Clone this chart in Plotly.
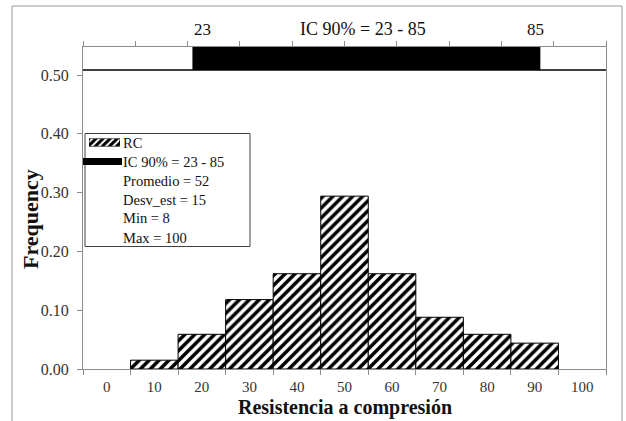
import numpy as np
import plotly.graph_objects as go

# ---------------- data ----------------
bin_centers = [10, 20, 30, 40, 50, 60, 70, 80, 90]
frequency = [0.015, 0.059, 0.118, 0.162, 0.294, 0.162, 0.088, 0.059, 0.044]
x_tick_values = [0, 10, 20, 30, 40, 50, 60, 70, 80, 90, 100]
y_tick_values = [0.0, 0.1, 0.2, 0.3, 0.4, 0.5]
ci_low = 23
ci_high = 85
series_name = "RC"
ci_label = "IC 90% = 23 - 85"
stats_lines = ["Promedio = 52", "Desv_est = 15", "Min = 8", "Max = 100"]
x_title = "Resistencia a compresión"
y_title = "Frequency"

# ---------------- layout geometry (pixels) ----------------
W_FIG, H_FIG = 626, 421
L, R, T, B = 83, 606, 47, 369
PW, PH = R - L, B - T
STRIP_BOTTOM = 70
LEG_ROW0, LEG_STEP = 142.5, 19


def px(xp):
    return (xp - L) / PW


def py(yp):
    return (B - yp) / PH


FONT = "Liberation Serif, Times New Roman, serif"
AX_GREY = "#8c8c8c"
TXT = "#111111"

fig = go.Figure()

# histogram bars
fig.add_trace(go.Bar(
    x=bin_centers, y=frequency, width=10, name=series_name,
    marker=dict(color="white", line=dict(color="black", width=1),
                pattern=dict(shape="/", size=7, solidity=0.5,
                             fgcolor="black", bgcolor="white", fgopacity=1)),
    showlegend=False, xaxis="x", yaxis="y",
))

# confidence interval strip bar
fig.add_trace(go.Bar(
    y=[0.5], x=[ci_high - ci_low], base=[ci_low], width=[1], orientation="h",
    marker=dict(color="black", line=dict(width=0)),
    showlegend=False, xaxis="x2", yaxis="y2",
))

# legend swatch (hatched) drawn in its own tiny subplot
fig.add_trace(go.Bar(
    x=[0.5], y=[1], width=[1],
    marker=dict(color="white", line=dict(color="black", width=1),
                pattern=dict(shape="/", size=5, solidity=0.6,
                             fgcolor="black", bgcolor="white", fgopacity=1)),
    showlegend=False, hoverinfo="skip", xaxis="x3", yaxis="y3",
))

strip_dom0 = py(STRIP_BOTTOM)
top_range = [3.5, 96.7]

fig.update_layout(
    width=W_FIG, height=H_FIG,
    margin=dict(l=L, r=W_FIG - R, t=T, b=H_FIG - B, pad=0),
    paper_bgcolor="white", plot_bgcolor="white",
    font=dict(family=FONT, size=16, color=TXT),
    barmode="overlay",
    showlegend=False,
    xaxis=dict(
        domain=[0, 1], anchor="y", range=[-5, 105],
        tickvals=x_tick_values, ticktext=[str(v) for v in x_tick_values],
        ticks="", showline=True, linecolor=AX_GREY, linewidth=1,
        showgrid=False, zeroline=False,
        minor=dict(ticks="outside", tick0=-5, dtick=10, ticklen=5, tickcolor=AX_GREY, showgrid=False),
        tickfont=dict(family=FONT, size=15, color="#333333"),
        ticklabelstandoff=4,
    ),
    yaxis=dict(
        domain=[0, strip_dom0], anchor="x", range=[0, 0.5085],
        tickvals=y_tick_values, ticktext=["%.2f" % v for v in y_tick_values],
        ticks="outside", ticklen=5, tickcolor=AX_GREY,
        showline=True, mirror=True, linecolor=AX_GREY, linewidth=1,
        showgrid=False, zeroline=False,
        tickfont=dict(family=FONT, size=16, color="#333333"),
        ticklabelstandoff=5,
    ),
    xaxis2=dict(
        domain=[0, 1], anchor="y2", side="top", range=top_range,
        tickvals=list(np.linspace(top_range[0], top_range[1], 11)),
        showticklabels=False, ticks="outside", ticklen=5, tickcolor=AX_GREY,
        showline=True, linecolor=AX_GREY, linewidth=1,
        showgrid=False, zeroline=False,
    ),
    yaxis2=dict(
        domain=[strip_dom0, 1], anchor="x2", range=[0, 1],
        showticklabels=False, ticks="",
        showline=True, mirror=True, linecolor=AX_GREY, linewidth=1,
        showgrid=False, zeroline=False,
    ),
    xaxis3=dict(domain=[px(89), px(120)], anchor="y3", range=[0, 1], visible=False, fixedrange=True),
    yaxis3=dict(domain=[py(LEG_ROW0 + 4), py(LEG_ROW0 - 4)], anchor="x3", range=[0, 1],
                visible=False, fixedrange=True),
)

shapes = []
# black line separating strip and histogram
shapes.append(dict(type="line", xref="paper", yref="y2 domain", x0=0, x1=1, y0=0, y1=0,
                   line=dict(color="black", width=1.5)))
# outer chart frame
shapes.append(dict(type="rect", xref="paper", yref="paper",
                   x0=px(12), x1=px(622), y0=py(430), y1=py(6),
                   line=dict(color="#9a9a9a", width=1), fillcolor="rgba(0,0,0,0)", layer="below"))
# legend box
shapes.append(dict(type="rect", xref="paper", yref="paper",
                   x0=px(85), x1=px(250), y0=py(LEG_ROW0 + 5 * LEG_STEP + 9), y1=py(LEG_ROW0 - 9),
                   line=dict(color="#404040", width=1), fillcolor="white", layer="below"))
# legend CI swatch
shapes.append(dict(type="line", xref="paper", yref="paper",
                   x0=px(83), x1=px(122), y0=py(LEG_ROW0 + LEG_STEP), y1=py(LEG_ROW0 + LEG_STEP),
                   line=dict(color="black", width=7)))
fig.update_layout(shapes=shapes)

annotations = []
# axis titles
annotations.append(dict(x=0.5, xref="paper", y=py(421), yref="paper", text="<b>%s</b>" % x_title,
                        showarrow=False, xanchor="center", yanchor="bottom",
                        font=dict(family=FONT, size=20, color=TXT)))
annotations.append(dict(x=px(30), xref="paper", y=py(219), yref="paper", text="<b>%s</b>" % y_title,
                        showarrow=False, xanchor="center", yanchor="middle", textangle=-90,
                        font=dict(family=FONT, size=22, color=TXT)))
# strip labels
annotations.append(dict(x=ci_low, xref="x2", y=py(29), yref="paper", text=str(ci_low),
                        showarrow=False, xanchor="left", yanchor="middle",
                        font=dict(family=FONT, size=17, color=TXT)))
annotations.append(dict(x=ci_high, xref="x2", y=py(29), yref="paper", text=str(ci_high),
                        showarrow=False, xanchor="center", xshift=-5, yanchor="middle",
                        font=dict(family=FONT, size=17, color=TXT)))
annotations.append(dict(x=(ci_low + ci_high) / 2, xref="x2", y=py(29), yref="paper", text=ci_label,
                        showarrow=False, xanchor="center", xshift=-3, yanchor="middle",
                        font=dict(family=FONT, size=18, color=TXT)))
# legend texts
legend_texts = [series_name, ci_label] + stats_lines
for i, t in enumerate(legend_texts):
    annotations.append(dict(x=px(121), xref="paper", y=py(LEG_ROW0 + LEG_STEP * i), yref="paper", text=t,
                            showarrow=False, xanchor="left", yanchor="middle",
                            font=dict(family=FONT, size=14.5, color=TXT)))
fig.update_layout(annotations=annotations)

fig.write_html("out.html")
